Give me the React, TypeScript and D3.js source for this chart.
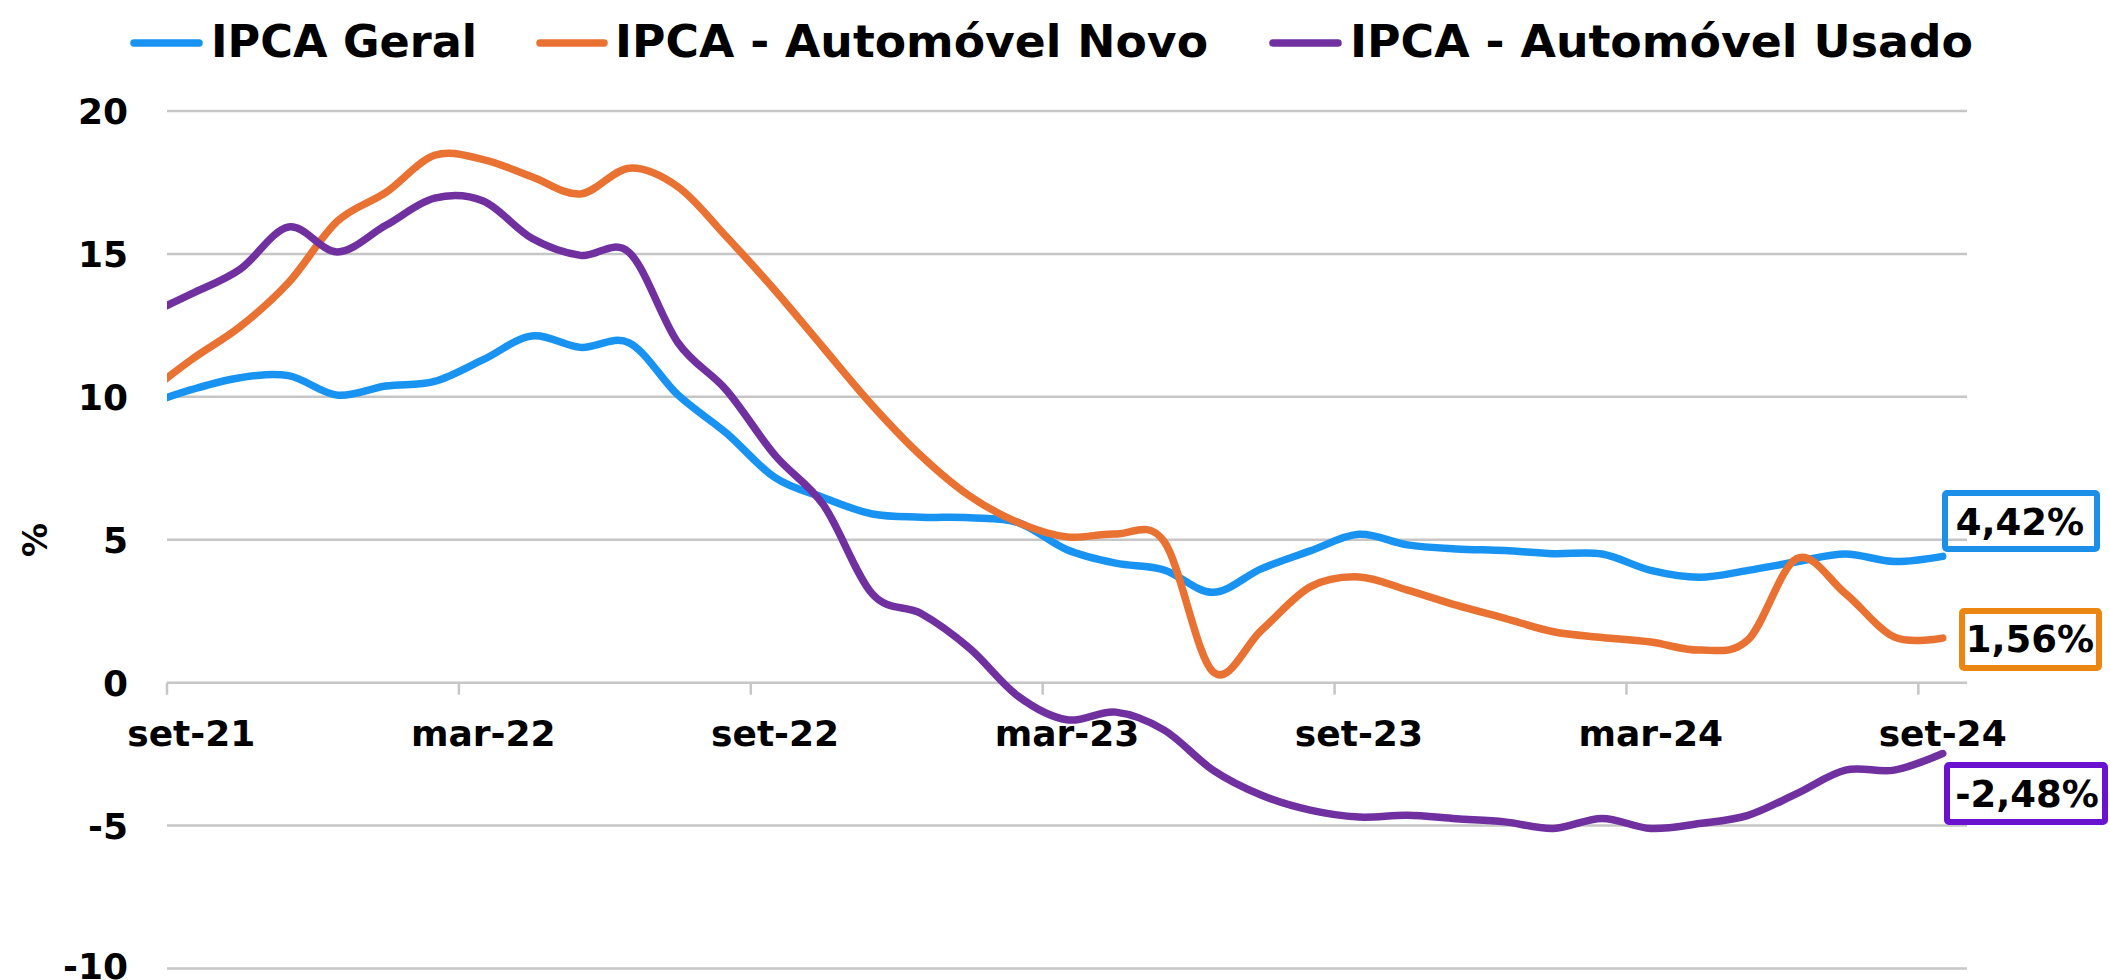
import React from 'react';
import * as d3 from 'd3';

// Months: first point (ago-21) lies left of the axis minimum and is clipped
const months = [
  'ago-21', 'set-21', 'out-21', 'nov-21', 'dez-21',
  'jan-22', 'fev-22', 'mar-22', 'abr-22', 'mai-22', 'jun-22', 'jul-22', 'ago-22', 'set-22', 'out-22', 'nov-22', 'dez-22',
  'jan-23', 'fev-23', 'mar-23', 'abr-23', 'mai-23', 'jun-23', 'jul-23', 'ago-23', 'set-23', 'out-23', 'nov-23', 'dez-23',
  'jan-24', 'fev-24', 'mar-24', 'abr-24', 'mai-24', 'jun-24', 'jul-24', 'ago-24', 'set-24',
];

const ipcaGeral = [
  9.68, 10.25, 10.67, 10.74, 10.06,
  10.38, 10.54, 11.3, 12.13, 11.73, 11.89, 10.07, 8.73, 7.17, 6.47, 5.9, 5.79,
  5.77, 5.6, 4.65, 4.18, 3.94, 3.16, 3.99, 4.61, 5.19, 4.82, 4.68, 4.62,
  4.51, 4.5, 3.93, 3.69, 3.93, 4.23, 4.5, 4.24, 4.42,
];

const autoNovo = [
  10.0, 11.3, 12.45, 14.0, 16.14,
  17.15, 18.45, 18.3, 17.7, 17.1, 18.0, 17.35, 15.6, 13.72, 11.7, 9.7, 7.94,
  6.53, 5.6, 5.1, 5.2, 4.93, 0.38, 1.84, 3.35, 3.7, 3.24, 2.71, 2.25,
  1.78, 1.58, 1.42, 1.14, 1.5, 4.34, 3.12, 1.6, 1.56,
];

const autoUsado = [
  12.8, 13.6, 14.46, 15.94, 15.07,
  16.0, 16.95, 16.85, 15.55, 14.95, 15.05, 11.9, 10.23, 7.95, 6.2, 3.1, 2.42,
  1.2, -0.48, -1.3, -1.03, -1.66, -3.06, -3.94, -4.46, -4.7, -4.64, -4.76, -4.87,
  -5.1, -4.75, -5.1, -4.93, -4.64, -3.88, -3.06, -3.06, -2.48,
];

const xTickLabels = ['set-21', 'mar-22', 'set-22', 'mar-23', 'set-23', 'mar-24', 'set-24'];
const yTicks = [20, 15, 10, 5, 0, -5, -10];
const seriesNames = ['IPCA Geral', 'IPCA - Automóvel Novo', 'IPCA - Automóvel Usado'];
const lastLabels = ['4,42%', '1,56%', '-2,48%'];
const lineColors = ['#1893F2', '#E97132', '#7030A0'];
const boxColors = ['#1C8FE8', '#EC8612', '#6A12CF'];

const FONT = '"DejaVu Sans", Verdana, sans-serif';

export default function App() {
  const W = 2110;
  const H = 980;
  const left = 167;
  const right = 1967;

  // x in months from set-21 start; month i of data (0 = ago-21) centered at i - 0.5
  const x = d3.scaleLinear().domain([0, 37]).range([left, right]);
  const y = d3.scaleLinear().domain([-10, 20]).range([968.5, 111]);

  const line = d3
    .line<number>()
    .x((_, i) => x(i - 0.5))
    .y((d) => y(d))
    .curve(d3.curveCatmullRom.alpha(0));

  const series = [ipcaGeral, autoNovo, autoUsado];

  const legend = [
    { lx1: 134, lx2: 199, tx: 211, tw: 266 },
    { lx1: 540, lx2: 604, tx: 615, tw: 593 },
    { lx1: 1273, lx2: 1338, tx: 1350, tw: 623 },
  ];

  const boxes = [
    { x: 1945, y: 493, w: 152, h: 56, tx: 2020, ty: 535 },
    { x: 1962, y: 611, w: 137, h: 57, tx: 2030, ty: 652 },
    { x: 1947, y: 765, w: 158, h: 57, tx: 2027, ty: 807 },
  ];

  const monthTicks = xTickLabels.map((_, j) => 6 * j);

  return (
    <svg
      width={W}
      height={H}
      style={{ position: 'absolute', left: 0, top: 0, background: '#fff' }}
      fontFamily={FONT}
    >
      <defs>
        <clipPath id="plotClip">
          <rect x={left} y={0} width={W - left} height={H} />
        </clipPath>
      </defs>
      <rect x={0} y={0} width={W} height={H} fill="#fff" />

      {/* gridlines */}
      {yTicks.map((t) => (
        <line key={t} x1={left} x2={right} y1={y(t)} y2={y(t)} stroke="#C6C6C6" strokeWidth={2.5} />
      ))}
      {/* x axis ticks at 0 */}
      {monthTicks.map((m) => (
        <line key={m} x1={x(m)} x2={x(m)} y1={y(0)} y2={y(0) + 12} stroke="#C6C6C6" strokeWidth={2.5} />
      ))}

      {/* y tick labels */}
      {yTicks.map((t) => (
        <text key={t} x={128} y={Math.min(y(t) + 13, 979)} textAnchor="end" fontSize={36} fontWeight="bold" fill="#000">
          {t}
        </text>
      ))}
      {/* y axis title */}
      <text transform={`translate(47,540) rotate(-90)`} textAnchor="middle" fontSize={34} fontWeight="bold" fill="#000">
        %
      </text>

      {/* x tick labels */}
      {xTickLabels.map((lab, j) => (
        <text key={lab} x={x(6 * j + 0.5)} y={746} textAnchor="middle" fontSize={36} fontWeight="bold" fill="#000">
          {lab}
        </text>
      ))}

      {/* series lines */}
      <g clipPath="url(#plotClip)">
        {series.map((s, k) => (
          <path
            key={k}
            d={line(s) || ''}
            fill="none"
            stroke={lineColors[k]}
            strokeWidth={7.5}
            strokeLinecap="round"
            strokeLinejoin="round"
          />
        ))}
      </g>

      {/* last value boxes */}
      {boxes.map((b, k) => (
        <g key={k}>
          <rect x={b.x} y={b.y} width={b.w} height={b.h} fill="none" stroke={boxColors[k]} strokeWidth={6} rx={2} />
          <text x={b.tx} y={b.ty} textAnchor="middle" fontSize={37} fontWeight="bold" fill="#000">
            {lastLabels[k]}
          </text>
        </g>
      ))}

      {/* legend */}
      {legend.map((l, k) => (
        <g key={k}>
          <line x1={l.lx1} x2={l.lx2} y1={43} y2={43} stroke={lineColors[k]} strokeWidth={7.5} strokeLinecap="round" />
          <text
            x={l.tx}
            y={57}
            fontSize={45}
            fontWeight="bold"
            fill="#000"
            textLength={l.tw}
            lengthAdjust="spacingAndGlyphs"
          >
            {seriesNames[k]}
          </text>
        </g>
      ))}
    </svg>
  );
}
